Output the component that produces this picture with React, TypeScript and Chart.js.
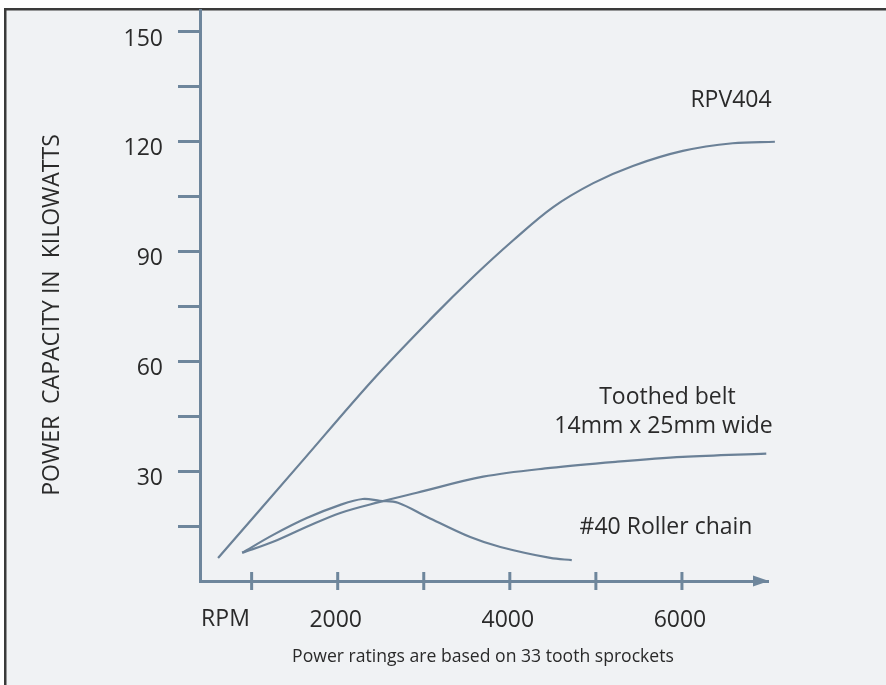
import { useEffect, useRef } from 'react';
import { Chart, registerables } from 'chart.js';

Chart.register(...registerables);

// ---- data ----
const rpvRpm = [610, 1560, 2410, 3110, 3570, 4040, 4500, 4970, 5430, 6010, 6590, 7080];
const rpvKw = [6.3, 32, 55, 72.3, 83.0, 93.1, 102.1, 108.7, 113.4, 117.5, 119.6, 120.0];

const beltRpm = [890, 1250, 1640, 2030, 2490, 2920, 3690, 4470, 5250, 6010, 6980];
const beltKw = [7.7, 10.7, 14.8, 18.6, 21.6, 24.1, 28.5, 30.9, 32.6, 33.9, 34.8];

const chainRpm = [890, 1250, 1640, 2030, 2290, 2490, 2700, 3040, 3540, 3890, 4470, 4720];
const chainKw = [7.7, 12.6, 17.2, 20.8, 22.4, 21.9, 21.4, 17.5, 12.0, 9.3, 6.3, 5.7];

const xTickValues = [1000, 2000, 3000, 4000, 5000, 6000];
const xLabeledTicks = [2000, 4000, 6000];
const yTickValues = [15, 30, 45, 60, 75, 90, 105, 120, 135, 150];
const yLabeledTicks = [30, 60, 90, 120, 150];

const yAxisTitle = 'POWER  CAPACITY IN  KILOWATTS';
const footnote = 'Power ratings are based on 33 tooth sprockets';
const xUnitLabel = 'RPM';

// curve labels placed in data coordinates (rpm, kW)
const curveLabels = [
  { text: 'RPV404', rpm: 6570, kw: 131.4 },
  { text: 'Toothed belt', rpm: 5832, kw: 50.1 },
  { text: '14mm x 25mm wide', rpm: 5786, kw: 42.2 },
  { text: '#40 Roller chain', rpm: 5815, kw: 14.5 },
  { text: xUnitLabel, rpm: 696, kw: -10.4 },
];

// ---- style ----
const FONT = "'Open Sans', sans-serif";
const AXIS = '#6e869c';
const CURVE = '#6b8197';
const TEXT = '#2a2a2a';
const BG = '#f0f2f4';
const FRAME = '#3a3a3a';

const toPoints = (xs: number[], ys: number[]) => xs.map((x, i) => ({ x, y: ys[i] }));

const decorPlugin = {
  id: 'decor',
  beforeDraw(chart: any) {
    const { ctx, width, height } = chart;
    ctx.save();
    ctx.fillStyle = '#ffffff';
    ctx.fillRect(0, 0, width, height);
    ctx.fillStyle = BG;
    ctx.fillRect(4, 8, width - 4, height - 8);
    ctx.fillStyle = FRAME;
    ctx.fillRect(4, 8, 2.5, height - 8);
    ctx.fillRect(4, 8, width - 4, 2.5);
    ctx.restore();
  },
  afterDraw(chart: any) {
    const { ctx, chartArea } = chart;
    const x = chart.scales.x;
    const y = chart.scales.y;
    ctx.save();
    // x tick marks crossing the axis
    ctx.strokeStyle = AXIS;
    ctx.lineWidth = 3;
    x.ticks.forEach((t: any) => {
      const px = x.getPixelForValue(t.value);
      ctx.beginPath();
      ctx.moveTo(px, chartArea.bottom - 9);
      ctx.lineTo(px, chartArea.bottom + 9);
      ctx.stroke();
    });
    // arrow head
    ctx.fillStyle = AXIS;
    ctx.beginPath();
    ctx.moveTo(chartArea.right + 1, chartArea.bottom);
    ctx.lineTo(chartArea.right - 15, chartArea.bottom - 5.5);
    ctx.lineTo(chartArea.right - 15, chartArea.bottom + 5.5);
    ctx.closePath();
    ctx.fill();

    // labels
    ctx.fillStyle = TEXT;
    ctx.textAlign = 'center';
    ctx.textBaseline = 'middle';
    ctx.font = `23px ${FONT}`;
    curveLabels.forEach((l) => {
      ctx.fillText(l.text, x.getPixelForValue(l.rpm), y.getPixelForValue(l.kw));
    });

    ctx.font = `17.6px ${FONT}`;
    ctx.fillText(footnote, 483, 657);

    ctx.save();
    ctx.translate(52, 315);
    ctx.rotate(-Math.PI / 2);
    ctx.font = `23px ${FONT}`;
    ctx.fillText(yAxisTitle, 0, 0);
    ctx.restore();

    ctx.restore();
  },
};

export default function App() {
  const canvasRef = useRef<HTMLCanvasElement | null>(null);

  useEffect(() => {
    document.body.style.margin = '0';
    const canvas = canvasRef.current;
    if (!canvas) return;
    Chart.defaults.font.family = FONT;

    const lineStyle = {
      borderColor: CURVE,
      borderWidth: 2.2,
      pointRadius: 0,
      fill: false,
      tension: 0.35,
      clip: false as any,
    };

    const chart = new Chart(canvas, {
      type: 'line',
      data: {
        datasets: [
          { label: 'RPV404', data: toPoints(rpvRpm, rpvKw), ...lineStyle },
          { label: 'Toothed belt 14mm x 25mm wide', data: toPoints(beltRpm, beltKw), ...lineStyle },
          { label: '#40 Roller chain', data: toPoints(chainRpm, chainKw), ...lineStyle },
        ],
      },
      options: {
        animation: false,
        responsive: false,
        events: [],
        layout: { padding: { top: 10, right: 118, left: 0, bottom: 0 } },
        plugins: { legend: { display: false }, tooltip: { enabled: false } },
        scales: {
          x: {
            type: 'linear',
            min: 400,
            max: 7000,
            afterBuildTicks: (s: any) => {
              s.ticks = xTickValues.map((v) => ({ value: v }));
            },
            afterFit: (s: any) => {
              s.height = 104;
              s.paddingLeft = 0;
              s.paddingRight = 0;
            },
            grid: { display: true, drawOnChartArea: false, drawTicks: false },
            border: { display: true, color: AXIS, width: 3 },
            ticks: {
              autoSkip: false,
              maxRotation: 0,
              padding: 26,
              labelOffset: -2,
              color: TEXT,
              font: { family: FONT, size: 23 },
              callback: (v: any) => (xLabeledTicks.includes(Number(v)) ? String(v) : ''),
            },
          },
          y: {
            type: 'linear',
            min: 0,
            max: 156,
            afterBuildTicks: (s: any) => {
              s.ticks = yTickValues.map((v) => ({ value: v }));
            },
            afterFit: (s: any) => {
              s.width = 200;
              s.paddingTop = 0;
              s.paddingBottom = 0;
            },
            grid: {
              display: true,
              drawOnChartArea: false,
              drawTicks: true,
              tickLength: 22,
              tickWidth: 3,
              tickColor: AXIS,
            },
            border: { display: true, color: AXIS, width: 3 },
            ticks: {
              autoSkip: false,
              padding: 15,
              labelOffset: 7,
              color: TEXT,
              font: { family: FONT, size: 23 },
              callback: (v: any) => (yLabeledTicks.includes(Number(v)) ? String(v) : ''),
            },
          },
        },
      },
      plugins: [decorPlugin],
    });

    return () => chart.destroy();
  }, []);

  return (
    <div style={{ position: 'absolute', left: 0, top: 0, width: 886, height: 685 }}>
      <canvas ref={canvasRef} width={886} height={685} style={{ display: 'block' }} />
    </div>
  );
}
